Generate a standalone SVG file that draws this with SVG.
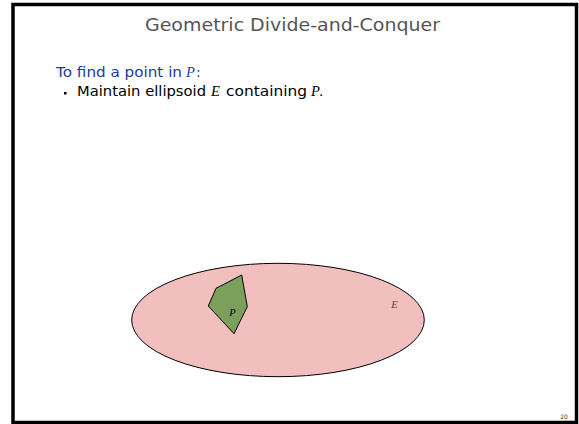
<svg xmlns="http://www.w3.org/2000/svg" width="579" height="424" viewBox="0 0 579 424">
<style>
.sans{font-family:"DejaVu Sans","Verdana",sans-serif}
.math{font-family:"Liberation Serif","Times New Roman",serif;font-style:italic}
</style>
<rect x="0" y="0" width="579" height="424" fill="#ffffff"/>
<rect id="frame" x="13" y="4.5" width="563.5" height="418" fill="none" stroke="#000" stroke-width="3.5"/>
<g id="title">
<text class="sans" x="292.5" y="31" font-size="17" fill="#555555" text-anchor="middle" textLength="295" lengthAdjust="spacingAndGlyphs">Geometric Divide-and-Conquer</text>
</g>
<g id="text">
<text class="sans" x="56" y="77" font-size="14" fill="#1a3b9c"><tspan textLength="126" lengthAdjust="spacingAndGlyphs">To find a point in</tspan><tspan class="math" x="186" font-size="14.5">P</tspan><tspan x="196">:</tspan></text>
<rect x="64" y="92" width="2.5" height="2.5" fill="#000"/>
<text class="sans" x="77" y="95.5" font-size="13.5" fill="#000"><tspan textLength="129" lengthAdjust="spacingAndGlyphs">Maintain ellipsoid</tspan><tspan class="math" x="211" font-size="14.5">E</tspan><tspan x="226" textLength="81" lengthAdjust="spacingAndGlyphs">containing</tspan><tspan class="math" x="311" font-size="14.5">P</tspan><tspan x="319">.</tspan></text>
</g>
<g id="ellipse-E">
<ellipse cx="278" cy="320" rx="146.3" ry="56.7" fill="#f2bfbf" stroke="#000" stroke-width="1"/>
<text class="math" x="394.5" y="308" font-size="10.5" fill="#6e3a3a" text-anchor="middle">E</text>
</g>
<g id="polygon-P">
<polygon points="241.7,275 216,288.3 208.3,306 234,333.7 247.3,306.7" fill="#7ba05b" stroke="#000" stroke-width="1"/>
<text class="math" x="232.5" y="316" font-size="10.5" fill="#000" text-anchor="middle">P</text>
</g>
<text class="sans" x="564" y="419" font-size="6" fill="#333" text-anchor="middle">20</text>
</svg>
